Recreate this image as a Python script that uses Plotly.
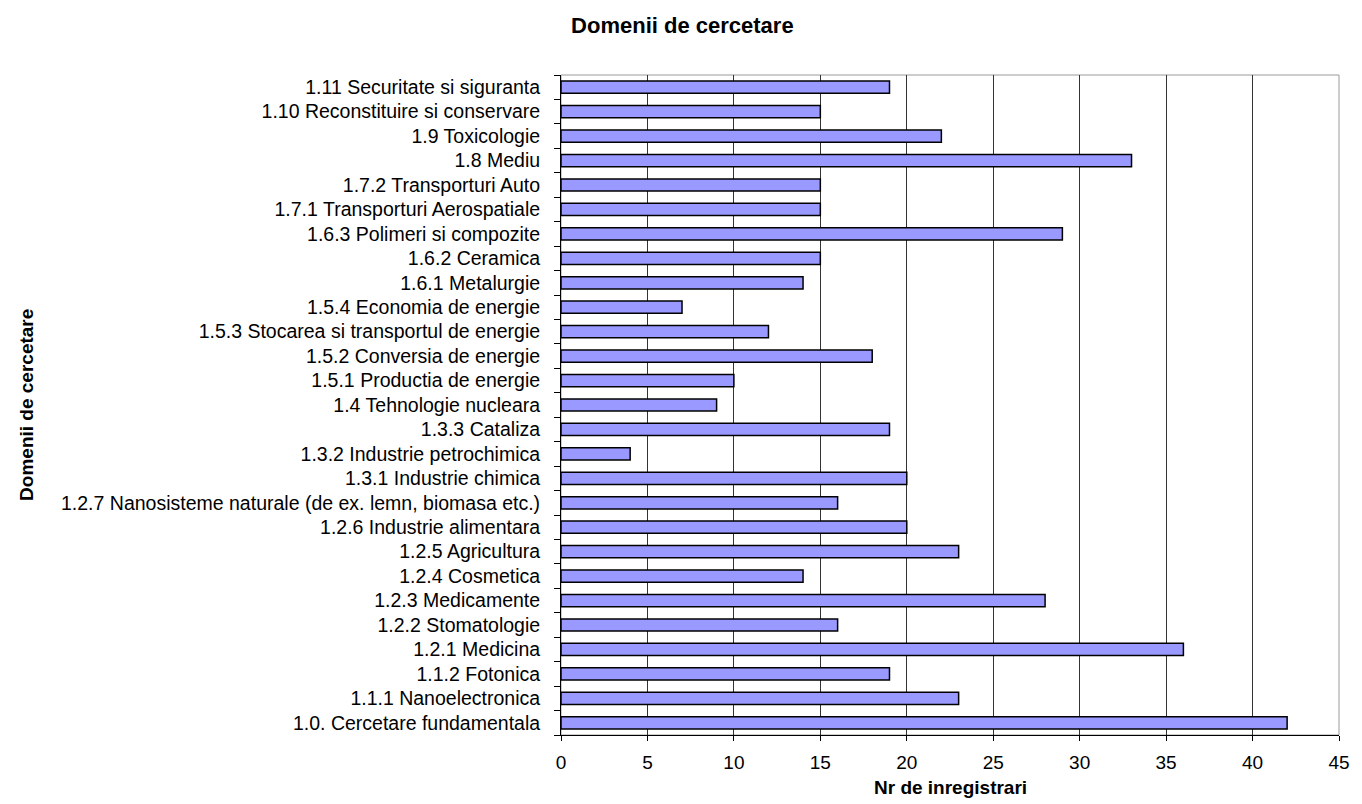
import plotly.graph_objects as go

# Research domains (bottom to top) and number of registrations
categories = [
    "1.0. Cercetare fundamentala",
    "1.1.1 Nanoelectronica",
    "1.1.2 Fotonica",
    "1.2.1 Medicina",
    "1.2.2 Stomatologie",
    "1.2.3 Medicamente",
    "1.2.4 Cosmetica",
    "1.2.5 Agricultura",
    "1.2.6 Industrie alimentara",
    "1.2.7 Nanosisteme naturale (de ex. lemn, biomasa etc.)",
    "1.3.1 Industrie chimica",
    "1.3.2 Industrie petrochimica",
    "1.3.3 Cataliza",
    "1.4 Tehnologie nucleara",
    "1.5.1 Productia de energie",
    "1.5.2 Conversia de energie",
    "1.5.3 Stocarea si transportul de energie",
    "1.5.4 Economia de energie",
    "1.6.1 Metalurgie",
    "1.6.2 Ceramica",
    "1.6.3 Polimeri si compozite",
    "1.7.1 Transporturi Aerospatiale",
    "1.7.2 Transporturi Auto",
    "1.8 Mediu",
    "1.9 Toxicologie",
    "1.10 Reconstituire si conservare",
    "1.11 Securitate si siguranta",
]
registrations = [42, 23, 19, 36, 16, 28, 14, 23, 20, 16, 20, 4, 19, 9, 10, 18, 12, 7,
                 14, 15, 29, 15, 15, 33, 22, 15, 19]
x_ticks = [0, 5, 10, 15, 20, 25, 30, 35, 40, 45]

FONT = "Liberation Sans, Arial, sans-serif"
W, H = 1362, 804
ML, MR, MT, MB = 561, 13, 75, 69
PW, PH = W - ML - MR, H - MT - MB

fig = go.Figure(
    go.Bar(
        x=registrations,
        y=categories,
        orientation="h",
        marker=dict(color="#9999FF", line=dict(color="black", width=1.5)),
        width=0.5,
    )
)

fig.update_layout(
    width=W,
    height=H,
    paper_bgcolor="white",
    plot_bgcolor="white",
    margin=dict(l=ML, r=MR, t=MT, b=MB),
    showlegend=False,
    font=dict(family=FONT, size=19, color="black"),
    title=dict(
        text="<b>Domenii de cercetare</b>",
        x=0.501,
        xanchor="center",
        y=1 - 25 / H,
        yanchor="middle",
        font=dict(family=FONT, size=22, color="black"),
    ),
    xaxis=dict(
        range=[0, 45],
        tickvals=x_ticks,
        showgrid=True,
        gridcolor="#333333",
        gridwidth=1,
        zeroline=False,
        showline=True,
        linecolor="black",
        linewidth=1,
        ticks="outside",
        ticklen=5,
        tickcolor="black",
        ticklabelstandoff=5,
        tickfont=dict(family=FONT, size=19),
    ),
    yaxis=dict(
        type="category",
        categoryorder="array",
        categoryarray=categories,
        range=[-0.5, len(categories) - 0.5],
        showgrid=False,
        zeroline=False,
        showline=True,
        linecolor="black",
        linewidth=1,
        ticks="outside",
        tickson="boundaries",
        ticklen=6,
        tickcolor="black",
        ticklabelstandoff=16,
        tickfont=dict(family=FONT, size=19.5),
    ),
    shapes=[
        dict(
            type="rect",
            xref="paper",
            yref="paper",
            x0=0,
            x1=1,
            y0=0,
            y1=1,
            line=dict(color="#9a9a9a", width=1),
            layer="below",
        )
    ],
    annotations=[
        # x axis title
        dict(
            text="<b>Nr de inregistrari</b>",
            xref="paper",
            yref="paper",
            x=0.5,
            y=-(787 - (MT + PH)) / PH,
            xanchor="center",
            yanchor="middle",
            showarrow=False,
            font=dict(family=FONT, size=19, color="black"),
        ),
        # y axis title, at the far left of the page
        dict(
            text="<b>Domenii de cercetare</b>",
            xref="paper",
            yref="paper",
            x=(19 - ML) / PW,
            y=0.5,
            xanchor="center",
            yanchor="middle",
            textangle=-90,
            showarrow=False,
            font=dict(family=FONT, size=19, color="black"),
        ),
    ],
)

fig.write_html("out.html")
